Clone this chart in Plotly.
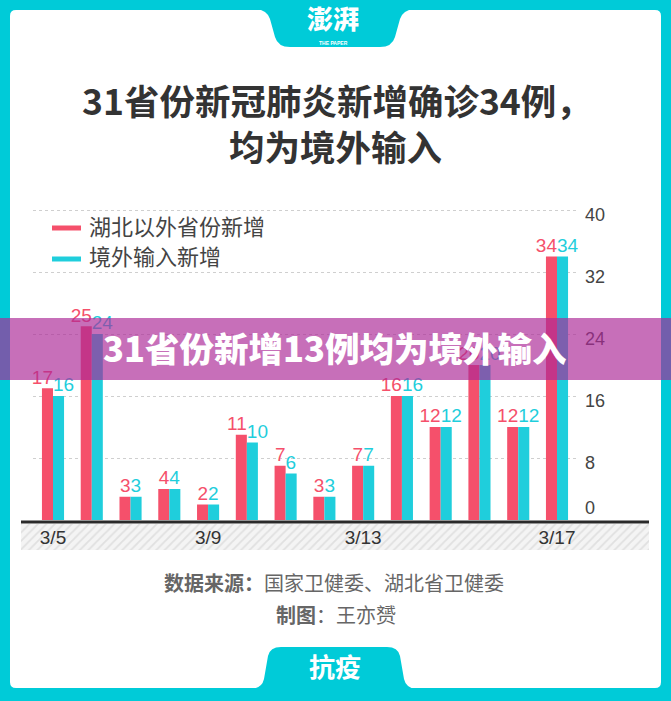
import plotly.graph_objects as go

W, H = 671, 701

# ---------------- data ----------------
categories = ["3/5", "3/6", "3/7", "3/8", "3/9", "3/10", "3/11",
              "3/12", "3/13", "3/14", "3/15", "3/16", "3/17", "3/18"]
outside_hubei = [17, 25, 3, 4, 2, 11, 7, 3, 7, 16, 12, 20, 12, 34]
imported = [16, 24, 3, 4, 2, 10, 6, 3, 7, 16, 12, 20, 12, 34]
tick_positions = ["3/5", "3/9", "3/13", "3/18"]
tick_labels = ["3/5", "3/9", "3/13", "3/17"]
y_ticks = [8, 16, 24, 32, 40]
series_names = ["湖北以外省份新增", "境外输入新增"]

RED = "#f5506b"
CYAN = "#1fcedc"
FRAME = "#00cbd8"
CJK = "Noto Sans CJK SC, sans-serif"
NUM = "Liberation Sans, Arial, sans-serif"


def X(p):
    return p / W


def Y(p):
    return 1 - p / H


def path_px(points_cmds):
    out = []
    for tok in points_cmds:
        if isinstance(tok, str):
            out.append(tok)
        else:
            out.append(f"{X(tok[0]):.5f},{Y(tok[1]):.5f}")
    return " ".join(out)


fig = go.Figure()

# hatched strip below the axis (decoration) on primary axes (drawn first)
fig.add_trace(go.Bar(
    x=[0], y=[1], width=[1], xaxis="x", yaxis="y",
    marker=dict(color="#f4f4f4", line=dict(width=0),
                pattern=dict(shape="/", fgcolor="#cccccc", bgcolor="#f4f4f4",
                             size=6, solidity=0.3)),
    hoverinfo="skip", showlegend=False,
))

fig.add_trace(go.Bar(
    x=categories, y=outside_hubei, name=series_names[0],
    xaxis="x2", yaxis="y2", offsetgroup="a",
    marker=dict(color=RED, line=dict(width=0)),
    hoverinfo="x+y", showlegend=False,
))
fig.add_trace(go.Bar(
    x=categories, y=imported, name=series_names[1],
    xaxis="x2", yaxis="y2", offsetgroup="b",
    marker=dict(color=CYAN, line=dict(width=0)),
    hoverinfo="x+y", showlegend=False,
))
# value labels: red to the left of the group centre, cyan to the right
fig.add_trace(go.Scatter(
    x=categories, y=outside_hubei, mode="text", text=outside_hubei,
    textposition="top left", xaxis="x2", yaxis="y2",
    textfont=dict(color=RED, size=19, family=NUM),
    cliponaxis=False, hoverinfo="skip", showlegend=False,
))
fig.add_trace(go.Scatter(
    x=categories, y=imported, mode="text", text=imported,
    textposition="top right", xaxis="x2", yaxis="y3",
    textfont=dict(color=CYAN, size=19, family=NUM),
    cliponaxis=False, hoverinfo="skip", showlegend=False,
))

slot = (557 - 53) / 13.0
x_left, x_right = 33, 578
r0 = (x_left - 53) / slot
r1 = (x_right - 53) / slot
ppu = 7.75
ytop = 41
y0px = 520

shapes = []
# inner white card
shapes.append(dict(type="path", xref="paper", yref="paper", layer="below",
                   path=path_px(["M", (16, 10), "L", (655, 10), "Q", (661, 10), (661, 16),
                                 "L", (661, 682), "Q", (661, 688), (655, 688),
                                 "L", (16, 688), "Q", (10, 688), (10, 682),
                                 "L", (10, 16), "Q", (10, 10), (16, 10), "Z"]),
                   fillcolor="white", line=dict(width=0)))
# top tab
shapes.append(dict(type="path", xref="paper", yref="paper", layer="below",
                   path=path_px(["M", (256, 9), "Q", (267, 10), (270, 19), "L", (275, 37),
                                 "Q", (278, 47), (290, 47), "L", (380, 47),
                                 "Q", (392, 47), (395, 37), "L", (400, 19),
                                 "Q", (403, 10), (414, 9), "Z"]),
                   fillcolor=FRAME, line=dict(width=0)))
# bottom tab
shapes.append(dict(type="path", xref="paper", yref="paper", layer="below",
                   path=path_px(["M", (252, 689), "Q", (262, 688), (264, 679), "L", (268, 656),
                                 "Q", (270, 647), (281, 647), "L", (387, 647),
                                 "Q", (398, 647), (400, 656), "L", (404, 679),
                                 "Q", (406, 688), (416, 689), "Z"]),
                   fillcolor=FRAME, line=dict(width=0)))
# legend swatches
shapes.append(dict(type="line", xref="paper", yref="paper", x0=X(52), x1=X(81),
                   y0=Y(228), y1=Y(228), line=dict(color=RED, width=5)))
shapes.append(dict(type="line", xref="paper", yref="paper", x0=X(52), x1=X(81),
                   y0=Y(259), y1=Y(259), line=dict(color=CYAN, width=5)))
# black baseline
shapes.append(dict(type="line", xref="paper", yref="paper", x0=X(21), x1=X(649),
                   y0=Y(522), y1=Y(522), line=dict(color="#2b2b2b", width=3)))
# purple banner
shapes.append(dict(type="rect", xref="paper", yref="paper", layer="above",
                   x0=0, x1=1, y0=Y(380), y1=Y(318),
                   fillcolor="rgba(172,40,150,0.67)", line=dict(width=0)))

annotations = []


def ann(text, x, y, size, color, family=CJK, xanchor="center", weight=None, **kw):
    f = dict(size=size, color=color, family=family)
    if weight:
        f["weight"] = weight
    d = dict(text=text, x=X(x), y=Y(y), xref="paper", yref="paper",
             showarrow=False, xanchor=xanchor, yanchor="middle", font=f)
    d.update(kw)
    annotations.append(d)


ann("澎湃", 333, 18, 26, "white", weight=900)
ann("THE PAPER", 333, 43, 5, "white", family=NUM, weight=700)
ann("31省份新冠肺炎新增确诊34例，", 337, 99, 35.5, "#333333", weight=700)
ann("均为境外输入", 335, 146, 35.5, "#333333", weight=700)
ann(series_names[0], 87, 225, 22, "#444444", xanchor="left")
ann(series_names[1], 87, 255, 22, "#444444", xanchor="left")
ann("<b>数据来源：</b>国家卫健委、湖北省卫健委", 334, 582, 20, "#666666")
ann("<b>制图</b>：王亦赟", 336, 614, 20, "#666666")
ann("抗疫", 335, 665, 26, "white", weight=700)
ann("31省份新增13例均为境外输入", 335, 347, 34.5, "white", weight=900)

fig.update_layout(
    width=W, height=H,
    margin=dict(l=0, r=0, t=0, b=0),
    paper_bgcolor=FRAME,
    plot_bgcolor="rgba(0,0,0,0)",
    barmode="group", bargap=0.43, bargroupgap=0,
    showlegend=False,
    shapes=shapes, annotations=annotations,
    xaxis=dict(domain=[X(21), X(649)], anchor="y", range=[-0.5, 0.5],
               visible=False, fixedrange=True),
    yaxis=dict(domain=[Y(550), Y(524)], anchor="x", range=[0, 1],
               visible=False, fixedrange=True),
    xaxis2=dict(domain=[X(x_left), X(x_right)], anchor="y2", type="category",
                categoryorder="array", categoryarray=categories,
                range=[r0, r1], tickmode="array",
                tickvals=tick_positions, ticktext=tick_labels,
                showgrid=False, zeroline=False, showline=False, ticks="",
                ticklabelstandoff=4,
                tickfont=dict(size=19, color="#333333", family=NUM)),
    yaxis2=dict(domain=[Y(y0px), Y(y0px - ytop * ppu)], anchor="x2", range=[0, ytop],
                side="right", tickmode="array", tickvals=y_ticks,
                showgrid=True, gridcolor="#cfcfcf", griddash="3px,3px", gridwidth=1,
                zeroline=False, showline=False, ticks="",
                ticklabelstandoff=6, ticklabelshift=5,
                tickfont=dict(size=18, color="#444444", family=NUM)),
    yaxis3=dict(overlaying="y2", anchor="x2", side="right", range=[0, ytop],
                tickmode="array", tickvals=[0], ticktext=["0"],
                ticklabelposition="outside top",
                showgrid=False, zeroline=False, showline=False, ticks="",
                ticklabelstandoff=6,
                tickfont=dict(size=18, color="#444444", family=NUM)),
)

fig.write_html("out.html", config={"displayModeBar": False},
               post_script="document.body.style.margin='0';")
